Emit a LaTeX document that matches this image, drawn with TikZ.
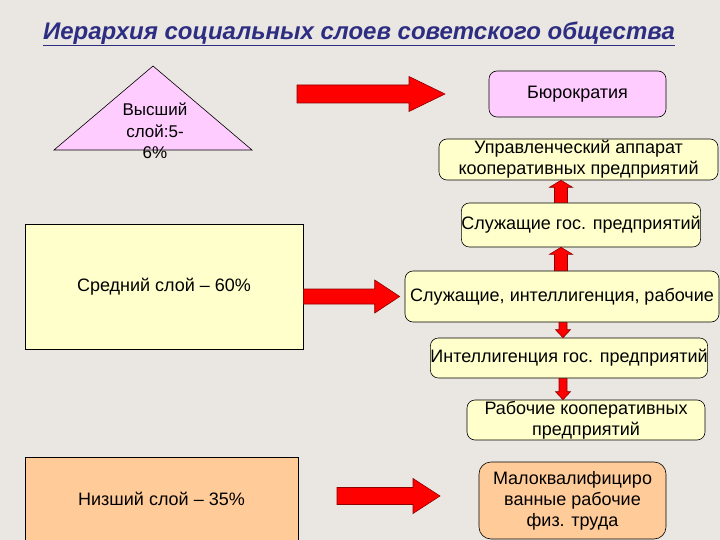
\documentclass[tikz,border=0pt]{standalone}
\usepackage{fontspec}
\setmainfont{Liberation Sans}
\usetikzlibrary{calc}
\definecolor{bg}{RGB}{234,230,226}
\definecolor{ttl}{RGB}{45,45,130}
\definecolor{yel}{RGB}{255,255,204}
\definecolor{pnk}{RGB}{255,204,255}
\definecolor{pch}{RGB}{255,204,153}
\definecolor{arr}{RGB}{255,0,0}
\definecolor{arrd}{RGB}{140,0,0}
% block arrow: start, tip, shaft half-width, head half-width, head length
\newcommand{\blockarr}[5]{%
  \coordinate (ah) at ($(#2)!#5!(#1)$);
  \filldraw[fill=arr,draw=arrd,line width=0.6pt,line join=miter]
    ($(#1)!#3!90:(#2)$) -- ($(ah)!#3!90:(#2)$) -- ($(ah)!#4!90:(#2)$) -- (#2)
    -- ($(ah)!#4!-90:(#2)$) -- ($(ah)!#3!-90:(#2)$) -- ($(#1)!#3!-90:(#2)$) -- cycle;}

\begin{document}
\begin{tikzpicture}[x=1pt,y=-1pt,font=\fontsize{18}{21}\selectfont,
  bx/.style={draw,line width=0.6pt,inner sep=0pt,align=center},
  rbx/.style={bx,rounded corners=8pt},
  lbl/.style={font=\fontsize{24}{28}\selectfont\bfseries\itshape,text=ttl}]
  \useasboundingbox (0,0) rectangle (720,540);
  \fill[bg] (0,0) rectangle (720,540);
  \clip (0,0) rectangle (720,540);
  \node[lbl] (title) at (359,34) {\underline{Иерархия социальных слоев советского общества}};
  % upper layer
  \coordinate (tl) at (54,150); \coordinate (tt) at (153,66); \coordinate (tr) at (252,150);
  \draw[fill=pnk,line width=0.6pt] (tl) -- (tt) -- (tr) -- cycle;
  \node[align=center,font=\fontsize{17}{21.5}\selectfont] (top) at (155,131) {Высший\\слой:5-\\6\%};
  \node[rbx,fill=pnk,minimum width=177pt,minimum height=46pt] (bur) at (577.5,94) {Бюрократия};
  \node[rbx,fill=yel,minimum width=279pt,minimum height=41pt] (upr) at (578.5,159.5)
    {Управленческий аппарат\\кооперативных предприятий};
  % middle layer
  \node[bx,fill=yel,minimum width=278pt,minimum height=125pt] (mid) at (164,286.5) {Средний слой -- 60\%};
  \node[rbx,fill=yel,minimum width=238pt,minimum height=44pt] (sgos) at (581,225) {Служащие гос. предприятий};
  \node[rbx,fill=yel,minimum width=314pt,minimum height=51pt] (sir) at (562,296.5) {Служащие, интеллигенция, рабочие};
  \node[rbx,fill=yel,minimum width=272pt,minimum height=40pt] (igos) at (569,358) {Интеллигенция гос. предприятий};
  \node[rbx,fill=yel,minimum width=238pt,minimum height=40pt] (rkoop) at (586,420)
    {Рабочие кооперативных\\предприятий};
  % lower layer
  \node[bx,fill=pch,minimum width=273pt,minimum height=84pt] (low) at (161.5,499) {Низший слой -- 35\%};
  \node[rbx,fill=pch,minimum width=187pt,minimum height=77pt,rounded corners=12pt] (malo) at (572.5,500.5)
    {Малоквалифициро\\ванные рабочие\\физ. труда};
  % arrows
  \coordinate (a1s) at (297,94); \coordinate (a1e) at (445,94);
  \blockarr{a1s}{a1e}{9pt}{17.5pt}{36pt}
  \coordinate (a2s) at (mid.east |- sir.west); \coordinate (a2e) at ([xshift=-5pt]sir.west);
  \blockarr{a2s}{a2e}{7.5pt}{16.5pt}{25pt}
  \coordinate (a3s) at (337,496); \coordinate (a3e) at (440,496);
  \blockarr{a3s}{a3e}{8.5pt}{17.5pt}{27pt}
  \coordinate (u1s) at ([xshift=-20pt]sgos.north); \coordinate (u1e) at (u1s |- upr.south);
  \blockarr{u1s}{u1e}{6.5pt}{11.5pt}{7pt}
  \coordinate (u2s) at (u1s |- sir.north); \coordinate (u2e) at (u1s |- sgos.south);
  \blockarr{u2s}{u2e}{6.5pt}{11.5pt}{7pt}
  \coordinate (d1s) at ([xshift=1pt]sir.south); \coordinate (d1e) at (d1s |- igos.north);
  \blockarr{d1s}{d1e}{4pt}{7.5pt}{8pt}
  \coordinate (d2s) at (d1s |- igos.south); \coordinate (d2e) at (d1s |- rkoop.north);
  \blockarr{d2s}{d2e}{4pt}{7.5pt}{8pt}
\end{tikzpicture}
\end{document}
